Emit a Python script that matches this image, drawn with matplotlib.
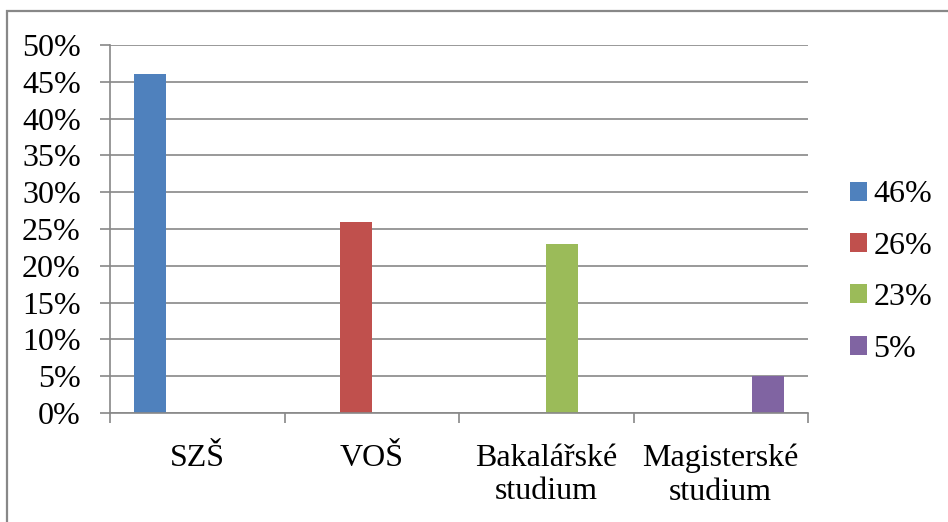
import matplotlib.pyplot as plt
from matplotlib.patches import Rectangle
from matplotlib.ticker import PercentFormatter, FixedLocator

plt.rcParams['font.family'] = ['Liberation Serif', 'DejaVu Serif']

categories = ['SZŠ', 'VOŠ', 'Bakalářské\nstudium', 'Magisterské\nstudium']
shares = [0.46, 0.26, 0.23, 0.05]
series_labels = ['46%', '26%', '23%', '5%']
colors = ['#4F81BD', '#C0504D', '#9BBB59', '#8064A2']

fig = plt.figure(figsize=(9.48, 5.22), dpi=100)
ax = fig.add_axes([110 / 948, 1 - 413 / 522, 698 / 948, 368 / 522])

# each series only has a value in its own category, clustered like a spreadsheet chart
n = len(shares)
w = 1 / (n + 1.5)
for i, (val, lab, col) in enumerate(zip(shares, series_labels, colors)):
    left = i - 0.5 + 0.75 * w + i * w
    ax.bar(left, val, width=w, align='edge', color=col, label=lab)

ax.set_xlim(-0.5, n - 0.5)
ax.set_ylim(0, 0.5)
ax.set_yticks([k * 0.05 for k in range(11)])
ax.yaxis.set_major_formatter(PercentFormatter(1.0, decimals=0))

ax.set_xticks(range(n))
ax.set_xticklabels(categories, linespacing=1.22)
ax.xaxis.set_minor_locator(FixedLocator([k - 0.5 for k in range(n + 1)]))
ax.tick_params(axis='x', which='major', length=0, pad=22, labelsize=23)
ax.tick_params(axis='x', which='minor', length=7, width=1.2, color='#888888', direction='out')
ax.tick_params(axis='y', length=7, width=1.2, color='#888888', pad=14, labelsize=23)

ax.grid(axis='y', color='#888888', linewidth=1.2)
ax.set_axisbelow(True)
for s in ['top', 'right']:
    ax.spines[s].set_visible(False)
for s in ['left', 'bottom']:
    ax.spines[s].set_color('#888888')
    ax.spines[s].set_linewidth(1.2)

ax.legend(loc='center left', bbox_to_anchor=(850 / 948, 1 - 272 / 522), bbox_transform=fig.transFigure,
          frameon=False, fontsize=23, handlelength=0.53, handleheight=0.53, handletextpad=0.2,
          labelspacing=0.7, borderaxespad=0, borderpad=0)

# chart area outline
fig.patches.append(Rectangle((7 / 948, -0.1), 1.1, 1 - 11 / 522 + 0.1, transform=fig.transFigure,
                             fill=False, edgecolor='#888888', linewidth=1.6))

fig.savefig('out.png', dpi=100)
